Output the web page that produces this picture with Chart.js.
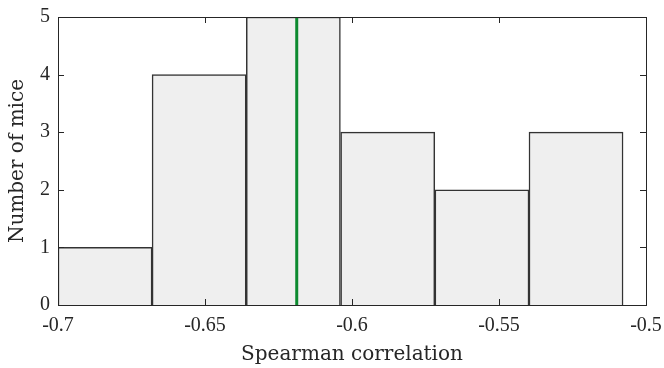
<!DOCTYPE html>
<html><head><meta charset="utf-8">
<script src="https://cdn.jsdelivr.net/npm/chart.js@4.4.1/dist/chart.umd.min.js"></script>
<style>html,body{margin:0;padding:0;background:#fff}#wrap{width:664px;height:368px}</style>
</head><body><div id="wrap"><canvas id="c" width="664" height="368"></canvas></div>
<script>
const binEdges = [-0.7, -0.668, -0.636, -0.6039, -0.5718, -0.5398, -0.5078];
const counts = [1, 4, 5, 3, 2, 3];
const medianValue = -0.6188;
const xTicks = [-0.7, -0.65, -0.6, -0.55, -0.5];
const yTicks = [0, 1, 2, 3, 4, 5];

const barData = counts.map((c, i) => ({x: (binEdges[i] + binEdges[i + 1]) / 2, y: c}));
const lineData = [{x: medianValue, y: 0}, {x: medianValue, y: 5}];
const TICKFONT = "'Liberation Serif', 'DejaVu Serif', serif";
const TITLEFONT = "'DejaVu Serif', 'Liberation Serif', serif";
const TXT = '#262626';

const frame = {
  id: 'frame',
  afterDatasetsDraw(chart) {
    const {ctx, chartArea: a, scales} = chart;
    ctx.save();
    ctx.strokeStyle = TXT; ctx.lineWidth = 1;
    ctx.strokeRect(Math.round(a.left) + 0.5, Math.round(a.top) + 0.5, Math.round(a.right - a.left), Math.round(a.bottom - a.top));
    const L = 6;
    ctx.beginPath();
    xTicks.forEach(v => {
      const px = Math.round(scales.x.getPixelForValue(v)) + 0.5;
      ctx.moveTo(px, a.bottom); ctx.lineTo(px, a.bottom - L);
      ctx.moveTo(px, a.top); ctx.lineTo(px, a.top + L);
    });
    yTicks.forEach(v => {
      const py = Math.round(scales.y.getPixelForValue(v)) + 0.5;
      ctx.moveTo(a.left, py); ctx.lineTo(a.left + L, py);
      ctx.moveTo(a.right, py); ctx.lineTo(a.right - L, py);
    });
    ctx.stroke();
    ctx.restore();
  }
};

new Chart(document.getElementById('c'), {
  type: 'bar',
  data: {
    datasets: [
      {type: 'line', data: lineData, borderColor: '#0c8a2f', borderWidth: 3, pointRadius: 0, order: 0},
      {data: barData, backgroundColor: '#efefef', borderColor: '#333333', borderWidth: 1.5,
       barPercentage: 1, categoryPercentage: 1, order: 1}
    ]
  },
  options: {
    responsive: false, animation: false,
    layout: {padding: {top: 17, right: 18, left: 0, bottom: 0}},
    plugins: {legend: {display: false}, tooltip: {enabled: false}},
    scales: {
      x: {type: 'linear', min: -0.7, max: -0.5, offset: false,
        grid: {display: false}, border: {display: false},
        afterBuildTicks: s => { s.ticks = xTicks.map(v => ({value: v})); },
        afterFit: s => { s.height = 63; },
        ticks: {color: TXT, font: {family: TICKFONT, size: 20}, padding: 1, maxRotation: 0,
          callback: v => String(v).replace('−', '-')},
        title: {display: true, text: 'Spearman correlation', color: TXT, font: {family: TITLEFONT, size: 20}, padding: {top: 2, bottom: 1}}
      },
      y: {min: 0, max: 5,
        grid: {display: false}, border: {display: false},
        afterBuildTicks: s => { s.ticks = yTicks.map(v => ({value: v})); },
        afterFit: s => { s.width = 58; },
        ticks: {color: TXT, font: {family: TICKFONT, size: 20}, padding: 0},
        title: {display: true, text: 'Number of mice', color: TXT, font: {family: TITLEFONT, size: 20}, padding: {top: 6, bottom: 4}}
      }
    }
  },
  plugins: [frame]
});
</script></body></html>
